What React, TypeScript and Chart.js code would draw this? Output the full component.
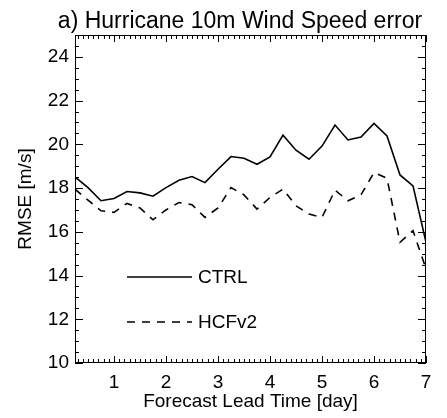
import React, { useEffect, useRef } from "react";
import { Chart, registerables } from "chart.js";

Chart.register(...registerables);

const TITLE = "a) Hurricane 10m Wind Speed error";
const X_TITLE = "Forecast Lead Time [day]";
const Y_TITLE = "RMSE [m/s]";

const DAYS = [
  0.25, 0.5, 0.75, 1.0, 1.25, 1.5, 1.75, 2.0, 2.25, 2.5, 2.75, 3.0, 3.25, 3.5,
  3.75, 4.0, 4.25, 4.5, 4.75, 5.0, 5.25, 5.5, 5.75, 6.0, 6.25, 6.5, 6.75, 7.0,
];
const CTRL = [
  18.51, 18.02, 17.42, 17.52, 17.84, 17.78, 17.63, 18.02, 18.36, 18.53, 18.25,
  18.86, 19.44, 19.36, 19.09, 19.42, 20.42, 19.73, 19.32, 19.92, 20.88, 20.2,
  20.33, 20.96, 20.38, 18.6, 18.1, 15.52,
];
const HCFV2 = [
  17.95, 17.45, 16.96, 16.89, 17.3, 17.09, 16.55, 17.0, 17.34, 17.24, 16.66,
  17.09, 18.02, 17.69, 17.04, 17.57, 17.95, 17.19, 16.81, 16.66, 17.9, 17.42,
  17.69, 18.71, 18.45, 15.52, 16.05, 14.31,
];
const X_TICKS = [1, 2, 3, 4, 5, 6, 7];
const Y_TICKS = [10, 12, 14, 16, 18, 20, 22, 24];

const FONT = "'Liberation Sans', Arial, Helvetica, sans-serif";
const LABEL_SIZE = 19;

const framePlugin = {
  id: "frame",
  afterDatasetsDraw(chart: any) {
    const { ctx, chartArea } = chart;
    const { left, right, top, bottom } = chartArea;
    const xs = chart.scales.x;
    const ys = chart.scales.y;
    ctx.save();
    ctx.strokeStyle = "#000";
    ctx.lineWidth = 1;
    ctx.strokeRect(left + 0.5, top + 0.5, right - left - 1, bottom - top - 1);
    ctx.beginPath();
    // x ticks (major & minor), bottom and top, pointing inward
    for (let k = 3; k <= 70; k++) {
      const v = k / 10;
      const major = k % 10 === 0;
      const len = major ? 7 : 4;
      const px = Math.round(xs.getPixelForValue(v)) + 0.5;
      ctx.moveTo(px, bottom);
      ctx.lineTo(px, bottom - len);
      ctx.moveTo(px, top);
      ctx.lineTo(px, top + len);
    }
    // y ticks every 0.5, major every 2
    for (let k = 20; k <= 50; k++) {
      const v = k / 2;
      const major = k % 4 === 0;
      const len = major ? 8 : 4;
      const py = Math.round(ys.getPixelForValue(v)) + 0.5;
      ctx.moveTo(left, py);
      ctx.lineTo(left + len, py);
      ctx.moveTo(right, py);
      ctx.lineTo(right - len, py);
    }
    ctx.stroke();

    // legend inside the plot
    const items = chart.data.datasets;
    const ly = [277, 322];
    ctx.font = `${LABEL_SIZE}px ${FONT}`;
    ctx.fillStyle = "#000";
    ctx.textBaseline = "middle";
    items.forEach((ds: any, i: number) => {
      ctx.beginPath();
      ctx.lineWidth = ds.borderWidth;
      ctx.setLineDash(ds.borderDash || []);
      ctx.moveTo(127, ly[i]);
      ctx.lineTo(192, ly[i]);
      ctx.stroke();
      ctx.setLineDash([]);
      ctx.fillText(ds.label, 198, ly[i] + 1);
    });

    // title
    ctx.font = `23px ${FONT}`;
    ctx.textAlign = "center";
    ctx.textBaseline = "alphabetic";
    ctx.fillText(TITLE, 240, 28);
    ctx.restore();
  },
};

export default function App() {
  const ref = useRef<HTMLCanvasElement>(null);
  useEffect(() => {
    if (!ref.current) return;
    const chart = new Chart(ref.current, {
      type: "line",
      data: {
        datasets: [
          {
            label: "CTRL",
            data: DAYS.map((d, i) => ({ x: d, y: CTRL[i] })),
            borderColor: "#000",
            borderWidth: 1.6,
            pointRadius: 0,
            tension: 0,
          },
          {
            label: "HCFv2",
            data: DAYS.map((d, i) => ({ x: d, y: HCFV2[i] })),
            borderColor: "#000",
            borderWidth: 1.6,
            borderDash: [8, 7],
            pointRadius: 0,
            tension: 0,
          },
        ],
      },
      options: {
        responsive: false,
        animation: false,
        devicePixelRatio: 1,
        layout: { padding: { top: 35, right: 21, left: 0, bottom: 0 } },
        plugins: {
          legend: { display: false },
          title: { display: false },
          tooltip: { enabled: false },
        },
        scales: {
          x: {
            type: "linear",
            min: 0.25,
            max: 7,
            afterBuildTicks: (s: any) => {
              s.ticks = X_TICKS.map((v) => ({ value: v }));
            },
            afterFit: (s: any) => {
              s.height = 55;
            },
            grid: { display: false, drawTicks: false },
            border: { display: false },
            ticks: {
              color: "#000",
              font: { family: FONT, size: LABEL_SIZE },
              padding: 8,
              maxRotation: 0,
              autoSkip: false,
            },
            title: {
              display: true,
              text: X_TITLE,
              color: "#000",
              font: { family: FONT, size: LABEL_SIZE },
              padding: { top: 0, bottom: 4.5 },
            },
          },
          y: {
            type: "linear",
            min: 10,
            max: 25,
            afterBuildTicks: (s: any) => {
              s.ticks = Y_TICKS.map((v) => ({ value: v }));
            },
            afterFit: (s: any) => {
              s.width = 75;
            },
            grid: { display: false, drawTicks: false },
            border: { display: false },
            ticks: {
              color: "#000",
              font: { family: FONT, size: LABEL_SIZE },
              padding: 6,
            },
            title: {
              display: true,
              text: Y_TITLE,
              color: "#000",
              font: { family: FONT, size: LABEL_SIZE },
              padding: { top: 14.4, bottom: 0 },
            },
          },
        },
      },
      plugins: [framePlugin],
    });
    return () => chart.destroy();
  }, []);
  return (
    <div style={{ position: "absolute", left: 0, top: 0, width: 447, height: 418, background: "#fff" }}>
      <canvas ref={ref} width={447} height={418} style={{ display: "block" }} />
    </div>
  );
}
